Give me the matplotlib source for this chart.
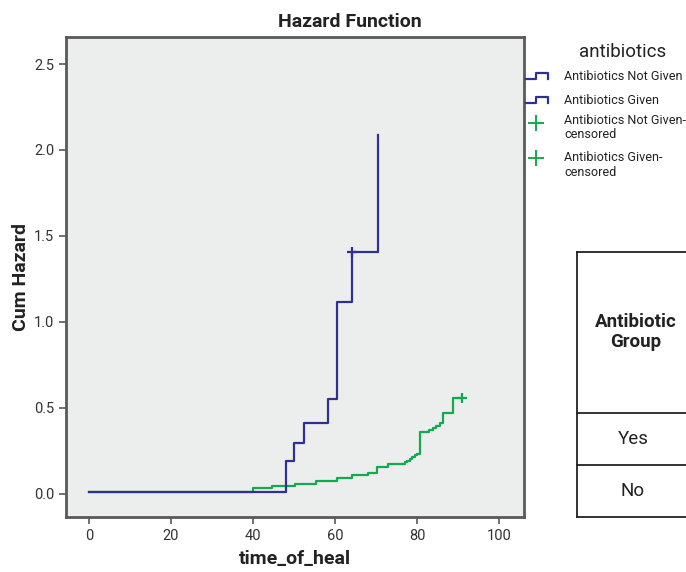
import matplotlib
matplotlib.use("Agg")
import matplotlib.pyplot as plt
from matplotlib.lines import Line2D

plt.rcParams['font.family'] = ['Roboto', 'DejaVu Sans']

# Data
given_time = [0, 48.1, 50.1, 52.4, 58.4, 60.4, 64.2, 70.4]
given_haz = [0.01, 0.19, 0.296, 0.41, 0.55, 1.116, 1.405, 2.087]
given_cens_time = [64.2]
given_cens_haz = [1.405]

notgiven_time = [0, 40.1, 44.6, 50.2, 55.4, 60.6, 64.1, 68.0, 70.2, 72.9, 77.0, 77.6, 78.2,
                 78.8, 79.4, 80.0, 80.7, 83.0, 84.0, 84.6, 85.5, 86.4, 88.9, 91.1]
notgiven_haz = [0.01, 0.033, 0.045, 0.06, 0.075, 0.091, 0.108, 0.124, 0.157, 0.174, 0.184, 0.194, 0.204,
                0.214, 0.224, 0.234, 0.36, 0.374, 0.385, 0.397, 0.415, 0.47, 0.56, 0.56]
notgiven_cens_time = [91.1]
notgiven_cens_haz = [0.56]

legend_title = "antibiotics"
legend_labels = ["Antibiotics Not Given", "Antibiotics Given",
                 "Antibiotics Not Given-\ncensored", "Antibiotics Given-\ncensored"]
table_header = "Antibiotic\nGroup"
table_rows = ["Yes", "No"]

blue = "#2e3192"
green = "#12a94f"
txt = "#222222"

W, H = 686, 572
fig = plt.figure(figsize=(W / 100, H / 100), dpi=100)


def fx(x):
    return x / W


def fy(y):
    return 1 - y / H


ax = fig.add_axes([fx(66), fy(517), (524 - 66) / W, (517 - 37) / H])
ax.set_facecolor("#eceeed")

ax.step(notgiven_time, notgiven_haz, where="post", color=green, lw=1.6)
ax.plot(notgiven_cens_time, notgiven_cens_haz, "+", color=green, ms=6.5, mew=1.6)
ax.step(given_time, given_haz, where="post", color=blue, lw=1.6)
ax.plot(given_cens_time, given_cens_haz, "+", color=blue, ms=6.5, mew=1.6)

ax.set_xlim(-5.6, 106.1)
ax.set_ylim(-0.134, 2.657)
ax.set_xticks([0, 20, 40, 60, 80, 100])
ax.set_yticks([0.0, 0.5, 1.0, 1.5, 2.0, 2.5])
ax.set_yticklabels(["0.0", "0.5", "1.0", "1.5", "2.0", "2.5"])
for s in ax.spines.values():
    s.set_color("#595959")
    s.set_linewidth(2.0)
ax.tick_params(direction="out", length=5, width=1.2, color="#595959",
               labelsize=10.5, labelcolor="#333333")

fig.text(fx(350), fy(22), "Hazard Function", ha="center", va="center",
         fontsize=14, fontweight="bold", color=txt)
ax.set_xlabel("time_of_heal", fontsize=14, fontweight="bold", labelpad=5, color=txt)
ax.set_ylabel("Cum Hazard", fontsize=14, fontweight="bold", labelpad=3, color=txt)

# Legend (drawn at fixed figure positions)
fig.text(fx(623), fy(52), legend_title, ha="center", va="center", fontsize=13.5, color=txt)
label_y = [76.5, 100.5, 127.5, 165]
for lab, yy in zip(legend_labels, label_y):
    fig.text(fx(564), fy(yy), lab, ha="left", va="center", fontsize=9.1,
             color=txt, linespacing=1.2)
for yy in label_y[:2]:
    lo, hi = yy + 2.5, yy - 3.5
    fig.add_artist(Line2D([fx(526), fx(536), fx(536), fx(548), fx(548)],
                          [fy(lo), fy(lo), fy(hi), fy(hi), fy(lo)],
                          color=blue, lw=1.6))
for yy in [122.7, 157.7]:
    fig.add_artist(Line2D([fx(536)], [fy(yy)], marker="+", ms=12, mew=1.4,
                          color=green, ls="none"))

# Table at right
lc = "#222222"
for yy in [252, 413, 465, 517]:
    fig.add_artist(Line2D([fx(577), fx(700)], [fy(yy), fy(yy)], color=lc, lw=1.3))
fig.add_artist(Line2D([fx(577), fx(577)], [fy(252), fy(517)], color=lc, lw=1.3))
fig.text(fx(636), fy(332), table_header, ha="center", va="center", fontsize=13.5,
         fontweight="bold", color=txt, linespacing=1.15)
fig.text(fx(633), fy(439), table_rows[0], ha="center", va="center", fontsize=13.5, color=txt)
fig.text(fx(633), fy(491), table_rows[1], ha="center", va="center", fontsize=13.5, color=txt)

fig.savefig("out.png", dpi=100)
